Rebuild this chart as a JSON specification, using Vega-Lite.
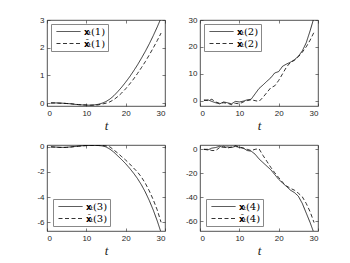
{
  "$schema": "https://vega.github.io/schema/vega-lite/v6.json",
  "background": "white",
  "padding": {"left": 36, "top": 15, "right": 0, "bottom": 0},
  "datasets": {
    "d": [
      {"p":1,"t":1,"x":0.01,"xh":0.01},{"p":1,"t":2,"x":0.01,"xh":0.01},{"p":1,"t":3,"x":0.01,"xh":0.0},{"p":1,"t":4,"x":0.0,"xh":0.0},{"p":1,"t":5,"x":-0.01,"xh":-0.01},{"p":1,"t":6,"x":-0.02,"xh":-0.02},{"p":1,"t":7,"x":-0.04,"xh":-0.03},{"p":1,"t":8,"x":-0.05,"xh":-0.05},{"p":1,"t":9,"x":-0.06,"xh":-0.06},{"p":1,"t":10,"x":-0.07,"xh":-0.06},{"p":1,"t":11,"x":-0.07,"xh":-0.07},{"p":1,"t":12,"x":-0.06,"xh":-0.07},{"p":1,"t":13,"x":-0.04,"xh":-0.06},{"p":1,"t":14,"x":0.0,"xh":-0.03},{"p":1,"t":15,"x":0.06,"xh":0.0},{"p":1,"t":16,"x":0.15,"xh":0.05},{"p":1,"t":17,"x":0.27,"xh":0.13},{"p":1,"t":18,"x":0.42,"xh":0.24},{"p":1,"t":19,"x":0.58,"xh":0.37},{"p":1,"t":20,"x":0.76,"xh":0.52},{"p":1,"t":21,"x":0.95,"xh":0.69},{"p":1,"t":22,"x":1.16,"xh":0.87},{"p":1,"t":23,"x":1.38,"xh":1.07},{"p":1,"t":24,"x":1.62,"xh":1.28},{"p":1,"t":25,"x":1.87,"xh":1.5},{"p":1,"t":26,"x":2.14,"xh":1.74},{"p":1,"t":27,"x":2.43,"xh":1.99},{"p":1,"t":28,"x":2.74,"xh":2.25},{"p":1,"t":29,"x":3.07,"xh":2.53},
      {"p":2,"t":1,"x":0,"xh":0.3},{"p":2,"t":2,"x":0.3,"xh":0},{"p":2,"t":3,"x":-0.3,"xh":0.5},{"p":2,"t":4,"x":-0.8,"xh":-0.5},{"p":2,"t":5,"x":-1.2,"xh":-1},{"p":2,"t":6,"x":-0.5,"xh":-0.8},{"p":2,"t":7,"x":-0.8,"xh":-1},{"p":2,"t":8,"x":-1.2,"xh":-1.5},{"p":2,"t":9,"x":-0.3,"xh":-1},{"p":2,"t":10,"x":-0.5,"xh":-1.2},{"p":2,"t":11,"x":-0.2,"xh":-0.5},{"p":2,"t":12,"x":0.3,"xh":0},{"p":2,"t":13,"x":0.5,"xh":0.3},{"p":2,"t":14,"x":2.5,"xh":0},{"p":2,"t":15,"x":4.5,"xh":-0.3},{"p":2,"t":16,"x":5.8,"xh":1.2},{"p":2,"t":17,"x":7.2,"xh":3},{"p":2,"t":18,"x":8.5,"xh":4.8},{"p":2,"t":19,"x":10.3,"xh":5.5},{"p":2,"t":20,"x":10.8,"xh":7.5},{"p":2,"t":21,"x":12.8,"xh":10},{"p":2,"t":22,"x":13.6,"xh":12.5},{"p":2,"t":23,"x":14.3,"xh":14.2},{"p":2,"t":24,"x":15.2,"xh":15},{"p":2,"t":25,"x":16.5,"xh":16.3},{"p":2,"t":26,"x":18.5,"xh":18},{"p":2,"t":27,"x":21.5,"xh":20},{"p":2,"t":28,"x":26,"xh":22.5},{"p":2,"t":29,"x":31,"xh":25.5},
      {"p":3,"t":1,"x":0,"xh":0},{"p":3,"t":2,"x":-0.01,"xh":-0.02},{"p":3,"t":3,"x":-0.03,"xh":-0.04},{"p":3,"t":4,"x":-0.04,"xh":-0.05},{"p":3,"t":5,"x":-0.03,"xh":-0.04},{"p":3,"t":6,"x":0.0,"xh":-0.02},{"p":3,"t":7,"x":0.03,"xh":0.02},{"p":3,"t":8,"x":0.06,"xh":0.05},{"p":3,"t":9,"x":0.09,"xh":0.08},{"p":3,"t":10,"x":0.11,"xh":0.1},{"p":3,"t":11,"x":0.12,"xh":0.12},{"p":3,"t":12,"x":0.12,"xh":0.13},{"p":3,"t":13,"x":0.11,"xh":0.13},{"p":3,"t":14,"x":0.08,"xh":0.12},{"p":3,"t":15,"x":0.0,"xh":0.08},{"p":3,"t":16,"x":-0.18,"xh":0.0},{"p":3,"t":17,"x":-0.42,"xh":-0.25},{"p":3,"t":18,"x":-0.72,"xh":-0.5},{"p":3,"t":19,"x":-1.02,"xh":-0.78},{"p":3,"t":20,"x":-1.34,"xh":-1.05},{"p":3,"t":21,"x":-1.7,"xh":-1.35},{"p":3,"t":22,"x":-2.09,"xh":-1.68},{"p":3,"t":23,"x":-2.52,"xh":-2.0},{"p":3,"t":24,"x":-3.02,"xh":-2.4},{"p":3,"t":25,"x":-3.6,"xh":-2.9},{"p":3,"t":26,"x":-4.27,"xh":-3.5},{"p":3,"t":27,"x":-5.02,"xh":-4.2},{"p":3,"t":28,"x":-5.87,"xh":-5.0},{"p":3,"t":29,"x":-6.82,"xh":-6.0},
      {"p":4,"t":1,"x":0,"xh":0},{"p":4,"t":2,"x":-0.5,"xh":0},{"p":4,"t":3,"x":1,"xh":-1},{"p":4,"t":4,"x":1.5,"xh":-1},{"p":4,"t":5,"x":2.5,"xh":1.5},{"p":4,"t":6,"x":1.5,"xh":2.5},{"p":4,"t":7,"x":2,"xh":1},{"p":4,"t":8,"x":1.5,"xh":2},{"p":4,"t":9,"x":2.5,"xh":3},{"p":4,"t":10,"x":1.5,"xh":2},{"p":4,"t":11,"x":1,"xh":1},{"p":4,"t":12,"x":-1,"xh":0},{"p":4,"t":13,"x":-1.5,"xh":-1},{"p":4,"t":14,"x":-4,"xh":0},{"p":4,"t":15,"x":-8,"xh":0.5},{"p":4,"t":16,"x":-11,"xh":-5},{"p":4,"t":17,"x":-14,"xh":-10},{"p":4,"t":18,"x":-17,"xh":-15},{"p":4,"t":19,"x":-21,"xh":-19.5},{"p":4,"t":20,"x":-25,"xh":-23.5},{"p":4,"t":21,"x":-28,"xh":-27.5},{"p":4,"t":22,"x":-31,"xh":-30.5},{"p":4,"t":23,"x":-34,"xh":-32.5},{"p":4,"t":24,"x":-36,"xh":-34},{"p":4,"t":25,"x":-39,"xh":-36.5},{"p":4,"t":26,"x":-45,"xh":-39.5},{"p":4,"t":27,"x":-53,"xh":-45},{"p":4,"t":28,"x":-61,"xh":-52},{"p":4,"t":29,"x":-70,"xh":-61}
    ]
  },
  "columns": 2,
  "spacing": {"row": 39, "column": 35},
  "bounds": "flush",
  "resolve": {"scale": {"y": "independent", "x": "independent", "strokeDash": "independent"}, "legend": {"strokeDash": "independent"}},
  "concat": [
    {
      "width": 118, "height": 86,
      "data": {"name": "d"},
      "transform": [{"filter": "datum.p == 1"}, {"fold": ["x", "xh"], "as": ["s", "v"]}],
      "resolve": {"axis": {"x": "independent", "y": "independent"}},
      "layer": [
        {
          "mark": {"type": "line", "clip": true, "color": "#000", "strokeWidth": 0.8},
          "encoding": {
            "x": {"field": "t", "type": "quantitative", "scale": {"domain": [0, 30], "nice": false}, "axis": {"values": [0, 10, 20, 30], "title": "t"}},
            "y": {"field": "v", "type": "quantitative", "scale": {"domain": [-0.1, 3], "nice": false, "zero": false}, "axis": {"values": [0, 1, 2, 3], "title": null}},
            "strokeDash": {"field": "s", "type": "nominal", "scale": {"domain": ["x", "xh"], "range": [[1, 0], [4, 2.5]]},
              "legend": {"orient": "top-left", "offset": 3.5, "labelExpr": "datum.value == 'x' ? '𝐱ₜ(1)' : '𝐱̂ₜ(1)'"}}
          }
        },
        {
          "mark": {"type": "line", "clip": true, "opacity": 0},
          "encoding": {
            "x": {"field": "t", "type": "quantitative", "axis": {"orient": "top", "values": [0, 10, 20, 30], "labels": false, "title": null}},
            "y": {"field": "v", "type": "quantitative", "axis": {"orient": "right", "values": [0, 1, 2, 3], "labels": false, "title": null}},
            "detail": {"field": "s"}
          }
        }
      ]
    },
    {
      "width": 118, "height": 86,
      "data": {"name": "d"},
      "transform": [{"filter": "datum.p == 2"}, {"fold": ["x", "xh"], "as": ["s", "v"]}],
      "resolve": {"axis": {"x": "independent", "y": "independent"}},
      "layer": [
        {
          "mark": {"type": "line", "clip": true, "color": "#000", "strokeWidth": 0.8},
          "encoding": {
            "x": {"field": "t", "type": "quantitative", "scale": {"domain": [0, 30], "nice": false}, "axis": {"values": [0, 10, 20, 30], "title": "t"}},
            "y": {"field": "v", "type": "quantitative", "scale": {"domain": [-2, 30], "nice": false, "zero": false}, "axis": {"values": [0, 10, 20, 30], "title": null}},
            "strokeDash": {"field": "s", "type": "nominal", "scale": {"domain": ["x", "xh"], "range": [[1, 0], [4, 2.5]]},
              "legend": {"orient": "top-left", "offset": 3.5, "labelExpr": "datum.value == 'x' ? '𝐱ₜ(2)' : '𝐱̂ₜ(2)'"}}
          }
        },
        {
          "mark": {"type": "line", "clip": true, "opacity": 0},
          "encoding": {
            "x": {"field": "t", "type": "quantitative", "axis": {"orient": "top", "values": [0, 10, 20, 30], "labels": false, "title": null}},
            "y": {"field": "v", "type": "quantitative", "axis": {"orient": "right", "values": [0, 10, 20, 30], "labels": false, "title": null}},
            "detail": {"field": "s"}
          }
        }
      ]
    },
    {
      "width": 118, "height": 86,
      "data": {"name": "d"},
      "transform": [{"filter": "datum.p == 3"}, {"fold": ["x", "xh"], "as": ["s", "v"]}],
      "resolve": {"axis": {"x": "independent", "y": "independent"}},
      "layer": [
        {
          "mark": {"type": "line", "clip": true, "color": "#000", "strokeWidth": 0.8},
          "encoding": {
            "x": {"field": "t", "type": "quantitative", "scale": {"domain": [0, 30], "nice": false}, "axis": {"values": [0, 10, 20, 30], "title": "t"}},
            "y": {"field": "v", "type": "quantitative", "scale": {"domain": [-6.7, 0.15], "nice": false, "zero": false}, "axis": {"values": [-6, -4, -2, 0], "title": null, "labelExpr": "replace(datum.label, '−', '-')"}},
            "strokeDash": {"field": "s", "type": "nominal", "scale": {"domain": ["x", "xh"], "range": [[1, 0], [4, 2.5]]},
              "legend": {"orient": "bottom-left", "offset": 5.5, "labelExpr": "datum.value == 'x' ? '𝐱ₜ(3)' : '𝐱̂ₜ(3)'"}}
          }
        },
        {
          "mark": {"type": "line", "clip": true, "opacity": 0},
          "encoding": {
            "x": {"field": "t", "type": "quantitative", "axis": {"orient": "top", "values": [0, 10, 20, 30], "labels": false, "title": null}},
            "y": {"field": "v", "type": "quantitative", "axis": {"orient": "right", "values": [-6, -4, -2, 0], "labels": false, "title": null}},
            "detail": {"field": "s"}
          }
        }
      ]
    },
    {
      "width": 118, "height": 86,
      "data": {"name": "d"},
      "transform": [{"filter": "datum.p == 4"}, {"fold": ["x", "xh"], "as": ["s", "v"]}],
      "resolve": {"axis": {"x": "independent", "y": "independent"}},
      "layer": [
        {
          "mark": {"type": "line", "clip": true, "color": "#000", "strokeWidth": 0.8},
          "encoding": {
            "x": {"field": "t", "type": "quantitative", "scale": {"domain": [0, 30], "nice": false}, "axis": {"values": [0, 10, 20, 30], "title": "t"}},
            "y": {"field": "v", "type": "quantitative", "scale": {"domain": [-68, 3.6], "nice": false, "zero": false}, "axis": {"values": [-60, -40, -20, 0], "title": null, "labelExpr": "replace(datum.label, '−', '-')"}},
            "strokeDash": {"field": "s", "type": "nominal", "scale": {"domain": ["x", "xh"], "range": [[1, 0], [4, 2.5]]},
              "legend": {"orient": "bottom-left", "offset": 5.5, "labelExpr": "datum.value == 'x' ? '𝐱ₜ(4)' : '𝐱̂ₜ(4)'"}}
          }
        },
        {
          "mark": {"type": "line", "clip": true, "opacity": 0},
          "encoding": {
            "x": {"field": "t", "type": "quantitative", "axis": {"orient": "top", "values": [0, 10, 20, 30], "labels": false, "title": null}},
            "y": {"field": "v", "type": "quantitative", "axis": {"orient": "right", "values": [-60, -40, -20, 0], "labels": false, "title": null}},
            "detail": {"field": "s"}
          }
        }
      ]
    }
  ],
  "config": {
    "view": {"stroke": "#262626", "strokeWidth": 0.8},
    "axis": {"domain": false, "grid": false, "tickSize": -3, "tickColor": "#262626", "tickWidth": 0.6,
      "labelFont": "Liberation Sans", "labelFontSize": 8, "labelColor": "#262626", "labelPadding": 6,
      "titleFont": "Liberation Serif", "titleFontStyle": "italic", "titleFontWeight": "normal", "titleFontSize": 13, "titleColor": "#262626", "titlePadding": 2},
    "legend": {"title": null, "strokeColor": "#888", "fillColor": "white", "padding": 2.5, "cornerRadius": 0,
      "symbolType": "M-0.5,0H5.5", "symbolSize": 64, "symbolStrokeColor": "#000", "symbolStrokeWidth": 0.8, "symbolFillColor": "transparent",
      "labelFont": "DejaVu Serif", "labelFontSize": 10, "labelColor": "#000", "labelOffset": 20, "rowPadding": 2}
  }
}
